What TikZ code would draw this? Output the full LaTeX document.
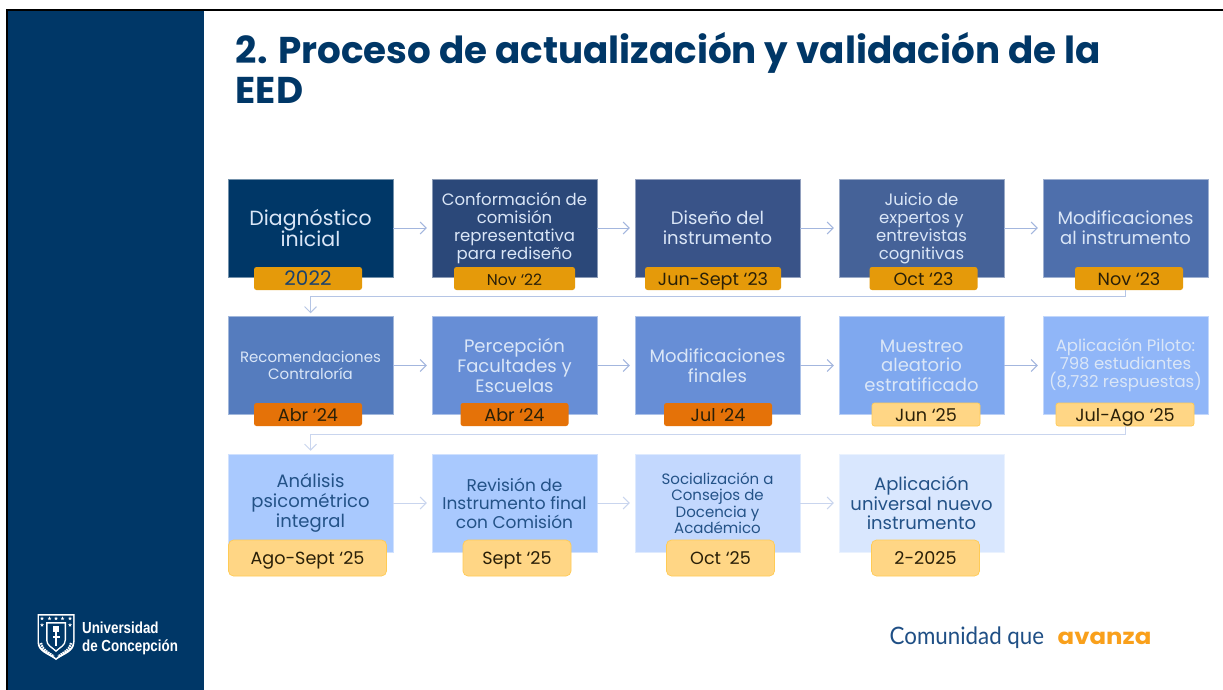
\documentclass[tikz,border=0pt]{standalone}
\usepackage{fontspec}
\setmainfont{Poppins}
\newfontfamily\lib{Liberation Sans}
\newfontfamily\lat{Lato}
\usetikzlibrary{arrows.meta,shapes.geometric}
\definecolor{navy}{HTML}{003767}
\definecolor{ca}{HTML}{003767}\definecolor{cb}{HTML}{2B4879}\definecolor{cc}{HTML}{395388}\definecolor{cd}{HTML}{456298}\definecolor{ce}{HTML}{4E6FAC}
\definecolor{cf}{HTML}{557CBE}\definecolor{cg}{HTML}{678ED6}\definecolor{ch}{HTML}{678ED6}\definecolor{ci}{HTML}{7FA8EF}\definecolor{cj}{HTML}{90B6F8}
\definecolor{ck}{HTML}{A9C9FE}\definecolor{cl}{HTML}{C3D8FE}\definecolor{cm}{HTML}{D9E7FE}
\definecolor{lighttxt}{HTML}{DAE6F7}\definecolor{darktxt}{HTML}{235287}
\definecolor{amber}{HTML}{E59A0A}\definecolor{orng}{HTML}{E57208}\definecolor{sand}{HTML}{FFD685}\definecolor{sandline}{HTML}{FFCB55}
\definecolor{arrowc}{HTML}{A3B6DE}\definecolor{arrowd}{HTML}{C9D5EE}\definecolor{tagink}{HTML}{2A2008}\definecolor{avz}{HTML}{F9A01B}\definecolor{comu}{HTML}{1F4F85}
\tikzset{
 stepbox/.style={rectangle,minimum width=165pt,minimum height=98pt,inner sep=0pt,draw=white!45!#1,line width=.5pt,fill=#1,align=center,text=lighttxt},
 fs/.style={font=\fontsize{#1}{\dimexpr#1pt*109/100\relax}\selectfont},
 datetag/.style={rectangle,rounded corners=2.5pt,inner sep=0pt,minimum height=23pt,minimum width=#1,text height=14pt,text depth=1pt,fill=amber,text=tagink,font=\fontsize{17.6}{18}\selectfont},
 orangetag/.style={datetag=#1,fill=orng},
 sandtag/.style={datetag=#1,fill=sand,draw=sandline,line width=.7pt},
 bigtag/.style={sandtag=#1,minimum height=36pt,rounded corners=5pt,font=\fontsize{17.6}{19}\selectfont},
 link/.style={draw=arrowc,line width=1pt,-{Straight Barb[length=6pt,width=12pt,line width=.9pt]},shorten >=5pt},
 linkb/.style={link,draw=arrowd},
 star5/.style={star,star points=5,star point ratio=2.4,fill=white,inner sep=0pt,minimum size=4.2pt},
}
\begin{document}
\begin{tikzpicture}[x=1pt,y=-1pt]
\useasboundingbox (0,0) rectangle (1223,690);
\fill[white] (0,0) rectangle (1223,690);
\fill[navy] (7,11) rectangle (204,690);
\fill[black] (5.5,9) rectangle (1223,11);
\fill[black] (5.5,9) rectangle (7.5,690);
% title
\node[anchor=base west,inner sep=0pt,text=navy,font=\fontsize{37.3}{37}\selectfont\bfseries] (title) at (235.5,63.5) {2. Proceso de actualización y validación de la};
\node[anchor=base west,inner sep=0pt,text=navy,font=\fontsize{37.3}{37}\selectfont\bfseries] (title2) at (235.5,103.5) {EED};
% row 1
\node[stepbox=ca,fs=20.5] (b1) at (310.5,228) {Diagnóstico\\[-1.5pt]inicial};
\node[stepbox=cb,fs=16.5] (b2) at (514.5,228) {Conformación de\\comisión\\representativa\\para rediseño};
\node[stepbox=cc,fs=18] (b3) at (717.5,228) {Diseño del\\instrumento};
\node[stepbox=cd,fs=16.5] (b4) at (921.5,228) {Juicio de\\expertos y\\entrevistas\\cognitivas};
\node[stepbox=ce,fs=18] (b5) at (1125.5,228) {Modificaciones\\al instrumento};
% row 2
\node[stepbox=cf,fs=15] (b6) at (310.5,365.5) {Recomendaciones\\Contraloría};
\node[stepbox=cg,fs=18] (b7) at (514.5,365.5) {Percepción\\Facultades y\\Escuelas};
\node[stepbox=ch,fs=18] (b8) at (717.5,365.5) {Modificaciones\\finales};
\node[stepbox=ci,fs=18] (b9) at (921.5,365.5) {Muestreo\\aleatorio\\estratificado};
\node[stepbox=cj,fs=16.5] (b10) at (1125.5,365.5) {Aplicación Piloto:\\798 estudiantes\\(8,732 respuestas)};
% row 3
\node[stepbox=ck,fs=18,text=darktxt] (b11) at (310.5,503) {Análisis\\psicométrico\\integral};
\node[stepbox=ck,fs=17,text=darktxt] (b12) at (514.5,503) {Revisión de\\Instrumento final\\con Comisión};
\node[stepbox=cl,fs=15,text=darktxt] (b13) at (717.5,503) {Socialización a\\Consejos de\\Docencia y\\Académico};
\node[stepbox=cm,fs=18,text=darktxt] (b14) at (921.5,503) {Aplicación\\universal nuevo\\instrumento};
% tags row 1
\node[datetag=108pt,text=darktxt!80!black,font=\fontsize{20}{20}\selectfont] (t1) at (308,278.5) {2022};
\node[datetag=121pt,font=\fontsize{15.6}{16}\selectfont] (t2) at (514.5,278.5) {Nov ‘22};
\node[datetag=136pt] (t3) at (713,278.5) {Jun-Sept ‘23};
\node[datetag=108pt] (t4) at (923.5,278.5) {Oct ‘23};
\node[datetag=108pt] (t5) at (1129,278.5) {Nov ‘23};
% tags row 2
\node[orangetag=108pt] (t6) at (308,414.5) {Abr ‘24};
\node[orangetag=108pt] (t7) at (514.5,414.5) {Abr ‘24};
\node[orangetag=108pt] (t8) at (718,414.5) {Jul ‘24};
\node[sandtag=108pt] (t9) at (926,414.5) {Jun ‘25};
\node[sandtag=138pt] (t10) at (1125,414.5) {Jul-Ago ‘25};
% tags row 3
\node[bigtag=158pt] (t11) at (307.5,558) {Ago-Sept ‘25};
\node[bigtag=108pt] (t12) at (517,558) {Sept ‘25};
\node[bigtag=108pt] (t13) at (720.5,558) {Oct ‘25};
\node[bigtag=108pt] (t14) at (925.5,558) {2-2025};
% connectors
\draw[link] (b1) -- (b2);
\draw[link] (b2) -- (b3);
\draw[link] (b3) -- (b4);
\draw[link] (b4) -- (b5);
\draw[link] (b6) -- (b7);
\draw[link] (b7) -- (b8);
\draw[link] (b8) -- (b9);
\draw[link] (b9) -- (b10);
\draw[linkb] (b11) -- (b12);
\draw[linkb] (b12) -- (b13);
\draw[linkb] (b13) -- (b14);
\coordinate (j1) at (1125.5,296.5);
\coordinate (j2) at (1125.5,434);
\draw[link,draw=arrowc!80,shorten >=3pt] (j1 |- t5.south) -- (j1) -| (b6.north);
\draw[linkb,shorten >=3pt] (j2 |- t10.south) -- (j2) -| (b11.north);
% logo
\begin{scope}
\fill[white] (37.5,614) -- (74.5,614) -- (74.5,642) .. controls (74.5,652) and (64,654) .. (56,660) .. controls (48,654) and (37.5,652) .. (37.5,642) -- cycle;
\fill[navy] (39,615.5) -- (73,615.5) -- (73,641) .. controls (73,650) and (63,652) .. (56,658) .. controls (49,652) and (39,650) .. (39,641) -- cycle;
\fill[white] (46,622) -- (66,622) -- (66,640) .. controls (66,646) and (60,648) .. (56,652) .. controls (52,648) and (46,646) .. (46,640) -- cycle;
\fill[navy] (47.5,623.5) -- (64.5,623.5) -- (64.5,640) .. controls (64.5,645) and (59,647) .. (56,650) .. controls (53,647) and (47.5,645) .. (47.5,640) -- cycle;
\foreach \sx in {42,49.5,56,62.5,70}{\node[star5] at (\sx,618.5) {};}
\foreach \sx in {42,70}{\node[star5] at (\sx,625) {};}
\fill[white] (53,626) rectangle (59,632);
\fill[white] (55,632) rectangle (57,646);
\fill[white] (52.5,636) rectangle (59.5,637.5);
\draw[white,line width=2.2pt,dash pattern=on 1.6pt off .8pt] (41,643) .. controls (42,650) and (48,652) .. (54,656.5);
\draw[white,line width=2.2pt,dash pattern=on 1.6pt off .8pt] (71,643) .. controls (70,650) and (64,652) .. (58,656.5);
\end{scope}
\node[anchor=base west,inner sep=0pt,text=white,xscale=.835,transform shape,font=\lib\bfseries\fontsize{16}{16}\selectfont] (ud1) at (82,633) {Universidad};
\node[anchor=base west,inner sep=0pt,text=white,xscale=.835,transform shape,font=\lib\bfseries\fontsize{16}{16}\selectfont] (ud2) at (82,651) {de Concepción};
% slogan
\node[anchor=base west,inner sep=0pt,text=comu,xscale=.93,transform shape,font=\lat\fontsize{24}{24}\selectfont] (sl1) at (889.5,644) {Comunidad que};
\node[anchor=base west,inner sep=0pt,text=avz,xscale=1.11,transform shape,font=\bfseries\fontsize{22}{22}\selectfont] (sl2) at (1057.5,644) {avanza};
\end{tikzpicture}
\end{document}
